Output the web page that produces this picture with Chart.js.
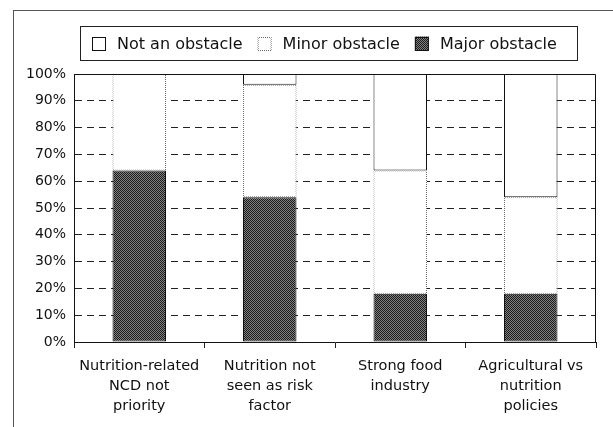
<!DOCTYPE html>
<html>
<head>
<meta charset="utf-8">
<script src="https://cdn.jsdelivr.net/npm/chart.js@4/dist/chart.umd.min.js"></script>
<style>
  html, body { margin: 0; padding: 0; background: #fff; }
  #wrap { position: relative; width: 613px; height: 427px; overflow: hidden; }
  #frame { position: absolute; left: 13px; top: 10px; right: -2px; bottom: -2px;
           border-left: 1px solid #555; border-top: 1px solid #555; }
  canvas { position: absolute; left: 0; top: 0; }
</style>
</head>
<body>
<div id="wrap">
  <div id="frame"></div>
  <canvas id="chart" width="613" height="427"></canvas>
</div>
<script>
// Categories (multi-line axis labels)
const categories = [
  ["Nutrition-related", "NCD not", "priority"],
  ["Nutrition not", "seen as risk", "factor"],
  ["Strong food", "industry"],
  ["Agricultural vs", "nutrition", "policies"]
];

// Share of respondents (%) per obstacle level
const majorObstacle = [64, 54, 18, 18];
const minorObstacle = [36, 42, 46, 36];
const notAnObstacle = [0, 4, 36, 46];

const seriesNames = ["Major obstacle", "Minor obstacle", "Not an obstacle"];

// Y axis ticks (percent)
const yTickValues = [0, 10, 20, 30, 40, 50, 60, 70, 80, 90, 100];

const FONT = "'DejaVu Sans', sans-serif";

// Halftone-like dark fill and dotted outline patterns
function makePattern(a, b) {
  const c = document.createElement('canvas');
  c.width = 2; c.height = 2;
  const g = c.getContext('2d');
  g.fillStyle = a; g.fillRect(0, 0, 2, 2);
  g.fillStyle = b; g.fillRect(0, 0, 1, 1); g.fillRect(1, 1, 1, 1);
  return g.createPattern(c, 'repeat');
}
const ctx = document.getElementById('chart').getContext('2d');
const darkFill = makePattern('#828282', '#1a1a1a');
const dottedEdge = makePattern('#ffffff', '#6a6a6a');

// Solid frame round the plotting area
const plotFrame = {
  id: 'plotFrame',
  afterDatasetsDraw(chart) {
    const a = chart.chartArea, c = chart.ctx;
    c.save();
    c.strokeStyle = '#111';
    c.lineWidth = 1;
    c.beginPath();
    c.moveTo(a.left + 0.5, a.top + 0.5);
    c.lineTo(a.right - 0.5, a.top + 0.5);
    c.lineTo(a.right - 0.5, a.bottom);
    c.stroke();
    c.restore();
  }
};

// Boxed legend across the top, listed from top stack segment to bottom
const boxedLegend = {
  id: 'boxedLegend',
  afterDraw(chart) {
    const c = chart.ctx;
    const box = { x: 80.5, y: 26.5, w: 497, h: 34 };
    c.save();
    c.strokeStyle = '#222';
    c.lineWidth = 1;
    c.strokeRect(box.x, box.y, box.w, box.h);
    c.font = '16px ' + FONT;
    c.textBaseline = 'middle';
    const items = chart.data.datasets.slice().reverse();
    const sw = 14, gapText = 11, gapItem = 15;
    let total = 0;
    items.forEach((d, i) => {
      total += sw + gapText + c.measureText(d.label).width + (i < items.length - 1 ? gapItem : 0);
    });
    let x = Math.round(324 - total / 2);
    const cy = box.y + box.h / 2;
    items.forEach(d => {
      c.fillStyle = d.backgroundColor;
      c.fillRect(x, cy - sw / 2, sw, sw);
      c.strokeStyle = d.borderColor;
      c.lineWidth = 1;
      c.strokeRect(x + 0.5, Math.round(cy - sw / 2) + 0.5, sw - 1, sw - 1);
      c.fillStyle = '#111';
      c.fillText(d.label, x + sw + gapText, cy + 1);
      x += sw + gapText + c.measureText(d.label).width + gapItem;
    });
    c.restore();
  }
};

new Chart(ctx, {
  type: 'bar',
  data: {
    labels: categories,
    datasets: [
      { label: seriesNames[0], data: majorObstacle, backgroundColor: darkFill,
        borderColor: '#111', borderWidth: 1, borderSkipped: false },
      { label: seriesNames[1], data: minorObstacle, backgroundColor: '#ffffff',
        borderColor: dottedEdge, borderWidth: 1, borderSkipped: false },
      { label: seriesNames[2], data: notAnObstacle, backgroundColor: '#ffffff',
        borderColor: '#111', borderWidth: 1, borderSkipped: false }
    ]
  },
  options: {
    responsive: false,
    animation: false,
    datasets: { bar: { categoryPercentage: 1, barPercentage: 0.41 } },
    layout: { padding: { top: 74, right: 17, left: 0, bottom: 0 } },
    plugins: { legend: { display: false }, tooltip: { enabled: false } },
    scales: {
      x: {
        stacked: true,
        afterFit(s) { s.height = 85; },
        grid: { offset: true, drawOnChartArea: false, drawTicks: true, tickLength: 6, color: '#222' },
        border: { display: true, color: '#111', width: 1 },
        ticks: { color: '#111', padding: 8, maxRotation: 0, autoSkip: false,
                 font: { family: FONT, size: 14.5, lineHeight: 1.38 } }
      },
      y: {
        stacked: true,
        min: 0, max: 100,
        afterFit(s) { s.width = 74; },
        afterBuildTicks(s) { s.ticks = yTickValues.map(v => ({ value: v })); },
        grid: {
          drawTicks: false,
          color: c => (c.tick && (c.tick.value === 0 || c.tick.value === 100)) ? 'rgba(0,0,0,0)' : '#222',
          lineWidth: 1
        },
        border: { display: true, color: '#111', width: 1, dash: [7, 5] },
        ticks: { color: '#111', padding: 8, callback: v => v + '%',
                 font: { family: FONT, size: 14 } }
      }
    }
  },
  plugins: [plotFrame, boxedLegend]
});
</script>
</body>
</html>
